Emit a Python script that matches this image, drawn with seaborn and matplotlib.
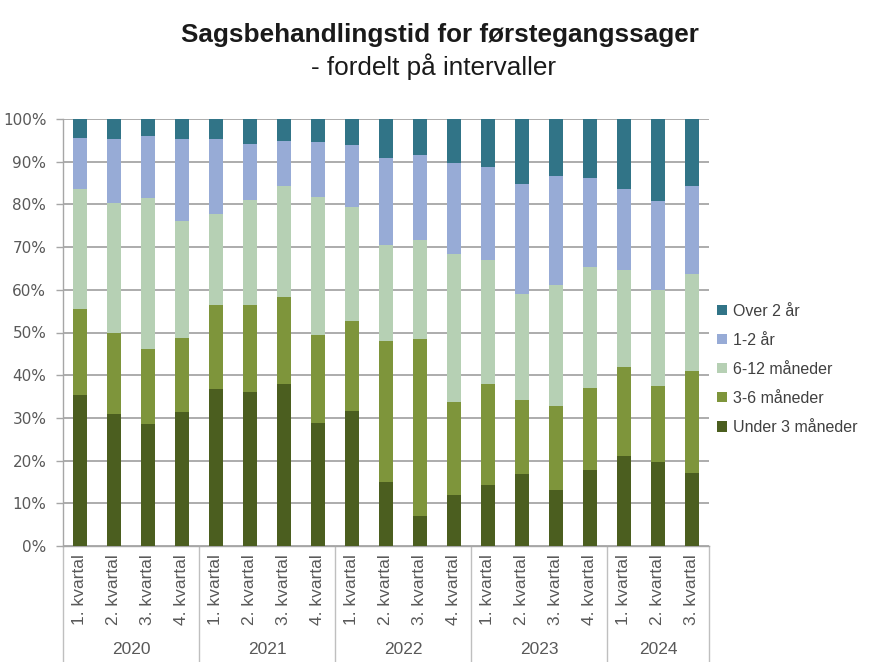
import matplotlib
matplotlib.use("Agg")
import matplotlib.pyplot as plt
import seaborn as sns
import pandas as pd
import numpy as np
from matplotlib.patches import Patch

years = ["2020", "2021", "2022", "2023", "2024"]
quarters_per_year = [4, 4, 4, 4, 3]
quarter_labels = ["1. kvartal", "2. kvartal", "3. kvartal", "4. kvartal"]

series_names = ["Under 3 måneder", "3-6 måneder", "6-12 måneder", "1-2 år", "Over 2 år"]

under_3 = [35.3, 31.0, 28.5, 31.3, 36.8, 36.0, 37.9, 28.8, 31.7, 15.0, 7.0, 12.0, 14.2, 16.8, 13.1, 17.9, 21.1, 19.7, 17.1]
m3_6 = [20.3, 18.8, 17.75, 17.45, 19.6, 20.4, 20.3, 20.7, 21.1, 33.0, 41.4, 21.8, 23.7, 17.4, 19.6, 19.2, 20.8, 17.8, 24.0]
m6_12 = [28.0, 30.5, 35.15, 27.25, 21.4, 24.7, 26.1, 32.3, 26.5, 22.5, 23.2, 34.6, 29.0, 24.7, 28.4, 28.3, 22.8, 22.5, 22.6]
y1_2 = [12.0, 14.9, 14.6, 19.2, 17.4, 13.0, 10.6, 12.7, 14.5, 20.4, 20.0, 21.4, 21.85, 25.9, 25.5, 20.8, 19.0, 20.7, 20.6]
over_2 = [4.4, 4.8, 4.0, 4.8, 4.8, 5.9, 5.1, 5.5, 6.2, 9.1, 8.4, 10.2, 11.25, 15.2, 13.4, 13.8, 16.3, 19.3, 15.7]

colors = ["#4B5E1F", "#7E953B", "#B6D0B4", "#97ABD6", "#317487"]

# build keys
keys = []
qlabs = []
for y, n in zip(years, quarters_per_year):
    for q in range(n):
        keys.append(f"{y}-{q+1}")
        qlabs.append(quarter_labels[q])

series = [under_3, m3_6, m6_12, y1_2, over_2]
cum = np.cumsum(np.array(series, dtype=float), axis=0) / 100.0
cum[-1] = 1.0

fig = plt.figure(figsize=(8.7, 6.62), dpi=100)
ax = fig.add_axes([63 / 870, 1 - 546 / 662, (709 - 63) / 870, (546 - 119) / 662])

# draw from the top layer down (stacked via overlapping cumulative bars)
for i in range(len(series) - 1, -1, -1):
    df = pd.DataFrame({"key": keys, "val": cum[i]})
    sns.barplot(data=df, x="key", y="val", order=keys, color=colors[i],
                saturation=1, width=0.4, errorbar=None, ax=ax, zorder=3,
                linewidth=0)

ax.set_ylim(0, 1)
ax.set_xlim(-0.5, len(keys) - 0.5)
ax.set_yticks(np.linspace(0, 1, 11))
ax.set_yticklabels([f"{int(v)}%" for v in np.arange(0, 101, 10)])
ax.set_xticks([])
ax.set_xlabel("")
ax.set_ylabel("")
grid_c = "#A6A6A6"
ax.yaxis.grid(True, color=grid_c, linewidth=1.3, zorder=0)
ax.set_axisbelow(True)
for s in ["top", "right"]:
    ax.spines[s].set_visible(False)
for s in ["left", "bottom"]:
    ax.spines[s].set_color(grid_c)
    ax.spines[s].set_linewidth(1.0)
ax.tick_params(axis="y", length=5, color=grid_c, width=1.0, pad=7,
               labelsize=11, labelcolor="#595959")

txt_c = "#595959"
tr = ax.get_xaxis_transform()
ppa = 546 - 119  # pixels per axes unit
for i, lab in enumerate(qlabs):
    ax.text(i, -8 / ppa, lab, rotation=90, ha="center", va="top",
            fontsize=12.5, color=txt_c, transform=tr, family="Liberation Sans")

# year labels & separators
start = 0
bounds = [-0.5]
for y, n in zip(years, quarters_per_year):
    center = start + (n - 1) / 2
    ax.text(center, -(650 - 546) / ppa, y, ha="center", va="center",
            fontsize=12.5, color=txt_c, transform=tr, family="Liberation Sans")
    start += n
    bounds.append(start - 0.5)
for b in bounds:
    ax.plot([b, b], [0, -(662 - 546) / ppa], color="#BFBFBF", lw=1.0,
            transform=tr, clip_on=False)

fig.text(440 / 870, 1 - 35 / 662, "Sagsbehandlingstid for førstegangssager",
         ha="center", va="center", fontsize=18.8, fontweight="bold",
         color="#1A1A1A", family="Liberation Sans")
fig.text(434 / 870, 1 - 67 / 662, "- fordelt på intervaller",
         ha="center", va="center", fontsize=18.8, color="#1A1A1A",
         family="Liberation Sans")

handles = [Patch(facecolor=colors[i], edgecolor="none", label=series_names[i])
           for i in range(len(series) - 1, -1, -1)]
leg = fig.legend(handles=handles, loc="center left",
                 bbox_to_anchor=(717 / 870, 1 - 369.5 / 662),
                 frameon=False, handlelength=0.6,
                 handleheight=0.6, handletextpad=0.4, labelspacing=0.88,
                 borderpad=0, borderaxespad=0,
                 prop={"family": "Liberation Sans", "size": 11.5})
for t in leg.get_texts():
    t.set_color("#404040")

fig.savefig("out.png", dpi=100)
